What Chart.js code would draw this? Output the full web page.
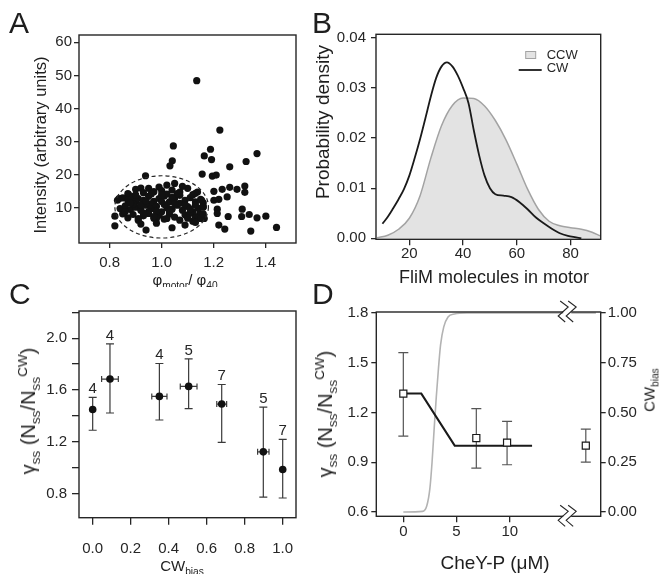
<!DOCTYPE html>
<html>
<head>
<meta charset="utf-8">
<script src="https://cdn.jsdelivr.net/npm/chart.js@4.4.1/dist/chart.umd.min.js"></script>
<style>
  body { margin: 0; background: #fff; }
  #fig { position: relative; width: 666px; height: 574px; overflow: hidden; background: #fff;
         font-family: "Liberation Sans", Arial, sans-serif; color: #1e1e1e; }
  #fig canvas { position: absolute; left: 0; top: 0; }
  .lbl { position: absolute; white-space: nowrap; line-height: 1; }
  .letter { font-size: 30px; }
  .ctr { transform: translateX(-50%); }
  .mid { transform: translate(-50%, -50%); }
  .rot { transform: translate(-50%, -50%) rotate(-90deg); }
  .lbl sub, .lbl sup { font-size: 68%; position: relative; vertical-align: baseline; line-height: 0; }
  .lbl sub { top: 0.35em; }
  .lbl sup { top: -0.6em; }
  .clipA { position: absolute; left: 0; top: 0; width: 333px; height: 287px; overflow: hidden; }
</style>
</head>
<body>
<div id="fig">
  <canvas id="chartA" width="666" height="574"></canvas>
  <canvas id="chartB" width="666" height="574"></canvas>
  <canvas id="chartC" width="666" height="574"></canvas>
  <canvas id="chartD" width="666" height="574"></canvas>

  <div class="lbl letter" style="left:9px;top:8px">A</div>
  <div class="lbl letter" style="left:312px;top:8px">B</div>
  <div class="lbl letter" style="left:9px;top:279px">C</div>
  <div class="lbl letter" style="left:312px;top:279px">D</div>

  <div class="lbl rot" style="left:40px;top:145px;font-size:16.5px">Intensity (arbitrary units)</div>
  <div class="clipA"><div class="lbl ctr" style="left:185px;top:272px;font-size:15px">φ<sub>motor</sub>/ φ<sub>40</sub></div></div>
  <div class="lbl rot" style="left:322px;top:122px;font-size:19px">Probability density</div>
  <div class="lbl mid" style="left:494px;top:277px;font-size:18px">FliM molecules in motor</div>
  <div class="lbl rot" style="left:28px;top:411px;font-size:20px">γ<sub>ss</sub> (N<sub>ss</sub>/N<sub>ss</sub><sup>CW</sup>)</div>
  <div class="lbl ctr" style="left:182px;top:558px;font-size:15px">CW<sub>bias</sub></div>
  <div class="lbl rot" style="left:325px;top:414px;font-size:20px">γ<sub>ss</sub> (N<sub>ss</sub>/N<sub>ss</sub><sup>CW</sup>)</div>
  <div class="lbl rot" style="left:649px;top:390px;font-size:15px">CW<sub>bias</sub></div>
  <div class="lbl mid" style="left:495px;top:562px;font-size:19px">CheY-P (μM)</div>
</div>

<script>
// ---------- panel A : intensity vs phi ratio ----------
const aXTicks = [0.8, 1.0, 1.2, 1.4];
const aYTicks = [10, 20, 30, 40, 50, 60];
const aPoints = [
  // outside the ellipse
  [1.135, 48.4], [1.224, 33.5], [1.045, 28.7], [1.188, 27.7], [1.164, 25.7], [1.041, 24.2],
  [1.192, 24.6], [1.367, 26.4], [1.325, 24.0], [1.032, 22.7], [1.262, 22.4], [1.156, 20.2],
  [1.195, 19.6], [1.210, 19.9], [0.938, 19.7], [1.201, 15.0], [1.233, 15.6], [1.262, 16.2],
  [1.290, 15.6], [1.320, 16.6], [1.320, 14.7], [1.252, 13.3], [1.201, 12.3], [1.220, 12.6],
  [1.214, 9.6], [1.214, 8.3], [1.256, 7.4], [1.310, 9.6], [1.308, 7.4], [1.337, 8.0],
  [1.367, 7.0], [1.401, 7.5], [1.220, 4.8], [1.243, 3.6], [1.343, 3.0], [1.442, 4.1],
  [1.138, 14.8], [1.154, 12.3], [1.160, 10.3], [1.147, 8.3], [1.164, 6.8], [1.135, 7.3],
  // the dense cluster
  [0.87, 14.3], [0.90, 15.6], [0.92, 16.0], [0.95, 15.9], [0.97, 14.9], [1.00, 15.2],
  [1.02, 16.9], [1.05, 17.4], [1.04, 15.4], [1.07, 14.8], [1.10, 15.9], [1.13, 14.4],
  [0.93, 14.6], [0.99, 16.3], [1.08, 16.5], [0.836, 12.8], [0.872, 14.1],
  [0.83, 12.3], [0.85, 13.0], [0.87, 12.3], [0.89, 13.4], [0.91, 12.8], [0.93, 12.3],
  [0.95, 13.5], [0.97, 12.0], [0.99, 12.8], [1.01, 13.6], [1.03, 11.8], [1.05, 12.9],
  [1.07, 13.8], [1.09, 12.3], [1.11, 13.1], [1.13, 11.8], [1.15, 12.6], [1.16, 11.5],
  [0.90, 11.9], [0.96, 11.2], [1.02, 14.2], [1.12, 14.0],
  [0.84, 9.8], [0.86, 10.6], [0.88, 9.5], [0.90, 10.2], [0.92, 9.3], [0.94, 10.8],
  [0.96, 9.8], [0.98, 10.5], [1.00, 8.8], [1.02, 10.1], [1.04, 9.6], [1.06, 10.8],
  [1.08, 9.3], [1.10, 10.4], [1.12, 8.8], [1.14, 9.9], [1.16, 10.3], [0.89, 11.2],
  [0.95, 8.9], [1.01, 11.0], [1.07, 11.4], [1.13, 10.9],
  [0.82, 7.5], [0.85, 8.2], [0.87, 7.0], [0.89, 8.0], [0.91, 6.8], [0.93, 7.6],
  [0.95, 8.3], [0.97, 6.9], [0.99, 7.8], [1.01, 6.6], [1.03, 8.1], [1.05, 7.2],
  [1.07, 6.3], [1.09, 7.9], [1.11, 8.4], [1.13, 7.1], [1.15, 6.8], [1.16, 8.2],
  [0.91, 6.3], [0.98, 6.8], [1.02, 6.8], [1.12, 6.0],
  [0.82, 4.6], [0.92, 5.1], [0.94, 3.3], [1.04, 4.0], [1.09, 4.8], [0.98, 5.4], [1.13, 5.6],
  [0.88, 11.5], [0.90, 13.9], [0.92, 10.9], [0.94, 12.0], [0.96, 14.2], [0.98, 9.0],
  [1.00, 11.9], [1.03, 9.0], [1.05, 11.5], [1.06, 14.3], [1.09, 11.0], [1.11, 9.7],
  [0.86, 8.9], [0.93, 8.4], [1.00, 14.0], [1.04, 13.2], [0.97, 7.4], [1.10, 6.9]
];
const aEllipse = [1.0, 10.3, 0.18, 9.4]; // centre x, centre y, half width, half height (data units)

// ---------- panel B : FliM distributions ----------
const bXTicks = [20, 40, 60, 80];
const bYTicks = [0, 0.01, 0.02, 0.03, 0.04];
const bSeries = ['CCW', 'CW'];
const bCcwX = [8, 12, 16, 20, 24, 28, 32, 36, 40, 44, 48, 52, 56, 60, 64, 68, 72, 76, 80, 84, 88, 91];
const bCcwY = [0.0001, 0.0006, 0.0018, 0.0040, 0.0085, 0.0160, 0.0225, 0.0265, 0.0280, 0.0279, 0.0264,
               0.0235, 0.0196, 0.0148, 0.0098, 0.0058, 0.0034, 0.0025, 0.0021, 0.0018, 0.0012, 0.0005];
const bCwX = [10, 12, 14, 16, 18, 20, 22, 24, 26, 28, 30, 32, 34, 36, 38, 40, 42, 44, 46, 48, 50,
              52, 55, 58, 61, 64, 67, 70, 73, 76, 79, 82, 84];
const bCwY = [0.0029, 0.0043, 0.0060, 0.0078, 0.0098, 0.0125, 0.0160, 0.0198, 0.0240, 0.0283, 0.0320,
              0.0343, 0.0351, 0.0343, 0.0325, 0.0300, 0.0270, 0.0215, 0.0165, 0.0125, 0.0100,
              0.0088, 0.0085, 0.0082, 0.0072, 0.0058, 0.0042, 0.0030, 0.0019, 0.0010, 0.0005, 0.0002, 0.0000];

// ---------- panel C : gamma vs CW bias ----------
const cXTicks = [0, 0.2, 0.4, 0.6, 0.8, 1.0];
const cYTicks = [0.8, 1.0, 1.2, 1.4, 1.6, 1.8, 2.0, 2.2];
const cYLabelled = [0.8, 1.2, 1.6, 2.0];
const cBias = [0.0, 0.091, 0.351, 0.505, 0.679, 0.898, 1.0];
const cBiasErr = [0, 0.044, 0.04, 0.044, 0.026, 0.03, 0];
const cRatio = [1.45, 1.685, 1.551, 1.628, 1.492, 1.123, 0.987];
const cHigh = [1.544, 1.956, 1.805, 1.840, 1.643, 1.469, 1.220];
const cLow = [1.290, 1.423, 1.369, 1.456, 1.197, 0.774, 0.767];
const cN = ['4', '4', '4', '5', '7', '5', '7'];

// ---------- panel D : gamma vs CheY-P ----------
const dXTicks = [0, 5, 10];
const dYTicks = [0.6, 0.9, 1.2, 1.5, 1.8];
const dY2Ticks = [0, 0.25, 0.5, 0.75, 1];
const dCheY = [0, 6.86, 9.75, 17.15];
const dRatio = [1.314, 1.046, 1.018, 1.0];
const dHigh = [1.561, 1.223, 1.147, 1.10];
const dLow = [1.058, 0.865, 0.885, 0.901];
const dFitX = [0, 1.69, 4.83, 12.1];
const dFitY = [1.314, 1.314, 1.0, 1.0];
const dBiasX = [0, 1.8, 2.2, 2.5, 2.7, 2.9, 3.1, 3.3, 3.5, 3.8, 4.2, 4.8, 6, 10, 15, 18.1];
const dBias = [0, 0.003, 0.03, 0.12, 0.25, 0.42, 0.58, 0.72, 0.84, 0.93, 0.98, 0.995, 1, 1, 1, 1];
const dBreak = 15.4;

const INK = '#262626';
Chart.defaults.font.family = '"Liberation Sans", Arial, sans-serif';
Chart.defaults.color = INK;
Chart.defaults.animation = false;
Chart.defaults.events = [];
Chart.defaults.plugins.legend.display = false;
Chart.defaults.plugins.tooltip.enabled = false;

const xy = (xs, ys) => xs.map((x, i) => ({ x: x, y: ys[i] }));

function axis(o) {
  return {
    type: 'linear', position: o.position, min: o.min, max: o.max,
    afterBuildTicks: s => { s.ticks = o.ticks.map(v => ({ value: v })); },
    afterFit: s => { if (o.width) s.width = o.width; if (o.height) s.height = o.height; },
    grid: { drawOnChartArea: false, drawTicks: true, tickLength: o.tl || 6, color: INK, lineWidth: 1.3 },
    border: { display: false },
    ticks: { autoSkip: false, maxRotation: 0, padding: o.pad, font: { size: o.size || 15 }, color: INK, callback: o.fmt },
    title: { display: false }
  };
}

// box around the plot area, with optional axis-break marks
function framePlugin(breakAt) {
  return {
    id: 'frame',
    afterDatasetsDraw(chart) {
      const { ctx, chartArea: a } = chart;
      ctx.save();
      ctx.strokeStyle = INK;
      ctx.lineWidth = 1.4;
      ctx.strokeRect(a.left, a.top, a.right - a.left, a.bottom - a.top);
      if (breakAt !== undefined) {
        const bx = chart.scales.x.getPixelForValue(breakAt);
        [a.top, a.bottom].forEach(yy => {
          ctx.fillStyle = '#fff';
          ctx.fillRect(bx - 4, yy - 4, 8, 8);
          ctx.lineWidth = 1.1;
          [-4, 4].forEach(dx => {
            const x0 = bx + dx;
            ctx.beginPath();
            ctx.moveTo(x0 - 3, yy - 11);
            ctx.lineTo(x0 + 5, yy - 5);
            ctx.lineTo(x0 - 5, yy + 4);
            ctx.lineTo(x0 + 2, yy + 10);
            ctx.stroke();
          });
        });
      }
      ctx.restore();
    }
  };
}

function ellipsePlugin(e) {
  return {
    id: 'ellipse',
    afterDatasetsDraw(chart) {
      const { ctx, scales } = chart;
      const cx = scales.x.getPixelForValue(e[0]), cy = scales.y.getPixelForValue(e[1]);
      const rx = Math.abs(scales.x.getPixelForValue(e[0] + e[2]) - cx);
      const ry = Math.abs(scales.y.getPixelForValue(e[1] + e[3]) - cy);
      ctx.save();
      ctx.strokeStyle = INK;
      ctx.lineWidth = 1.2;
      ctx.setLineDash([4, 3]);
      ctx.beginPath();
      ctx.ellipse(cx, cy, rx, ry, 0, 0, Math.PI * 2);
      ctx.stroke();
      ctx.restore();
    }
  };
}

function errorBarPlugin(o) {
  return {
    id: 'errorBars',
    beforeDatasetsDraw(chart) {
      const { ctx } = chart;
      const xs = chart.scales.x, ys = chart.scales.y;
      ctx.save();
      ctx.strokeStyle = o.color;
      ctx.lineWidth = 1.2;
      o.x.forEach((xv, i) => {
        const px = xs.getPixelForValue(xv);
        const top = ys.getPixelForValue(o.high[i]), bot = ys.getPixelForValue(o.low[i]);
        ctx.beginPath();
        ctx.moveTo(px, top); ctx.lineTo(px, bot);
        ctx.moveTo(px - o.cap, top); ctx.lineTo(px + o.cap, top);
        ctx.moveTo(px - o.cap, bot); ctx.lineTo(px + o.cap, bot);
        if (o.xErr && o.xErr[i]) {
          const py = ys.getPixelForValue(o.y[i]);
          const l = xs.getPixelForValue(xv - o.xErr[i]), r = xs.getPixelForValue(xv + o.xErr[i]);
          ctx.moveTo(l, py); ctx.lineTo(r, py);
          ctx.moveTo(l, py - 3); ctx.lineTo(l, py + 3);
          ctx.moveTo(r, py - 3); ctx.lineTo(r, py + 3);
        }
        ctx.stroke();
        if (o.labels) {
          ctx.fillStyle = INK;
          ctx.font = '15px "Liberation Sans", Arial, sans-serif';
          ctx.textAlign = 'center';
          ctx.textBaseline = 'bottom';
          ctx.fillText(o.labels[i], px, top - 1);
        }
      });
      ctx.restore();
    }
  };
}

// legend drawn inside the plot area, top right
const boxLegend = {
  id: 'boxLegend',
  afterDraw(chart) {
    const { ctx, chartArea: a } = chart;
    const tx = a.right - 54;
    ctx.save();
    ctx.font = '13px "Liberation Sans", Arial, sans-serif';
    ctx.textBaseline = 'middle';
    chart.data.datasets.forEach((ds, i) => {
      const ty = a.top + 20.7 + i * 13.5;
      if (ds.fill) {
        ctx.fillStyle = ds.backgroundColor;
        ctx.strokeStyle = ds.borderColor;
        ctx.lineWidth = 1;
        ctx.fillRect(tx - 21, ty - 3.5, 10, 7);
        ctx.strokeRect(tx - 21, ty - 3.5, 10, 7);
      } else {
        ctx.strokeStyle = ds.borderColor;
        ctx.lineWidth = ds.borderWidth;
        ctx.beginPath();
        ctx.moveTo(tx - 28, ty + 1.5);
        ctx.lineTo(tx - 5, ty + 1.5);
        ctx.stroke();
      }
      ctx.fillStyle = INK;
      ctx.fillText(ds.label, tx, ty);
    });
    ctx.restore();
  }
};

// ---- A
new Chart(document.getElementById('chartA'), {
  type: 'scatter',
  data: { datasets: [{ data: aPoints.map(p => ({ x: p[0], y: p[1] })), pointRadius: 3.6,
                       backgroundColor: '#111', borderWidth: 0 }] },
  options: {
    responsive: false,
    layout: { padding: { left: 0, top: 35, right: 370, bottom: 296 } },
    scales: {
      x: axis({ position: 'bottom', min: 0.682, max: 1.517, ticks: aXTicks, height: 35, tl: 5, pad: 6,
                fmt: v => v.toFixed(1) }),
      y: axis({ position: 'left', min: -0.6, max: 62.2, ticks: aYTicks, width: 79, tl: 5, pad: 2,
                fmt: v => String(v) })
    }
  },
  plugins: [framePlugin(), ellipsePlugin(aEllipse)]
});

// ---- B
new Chart(document.getElementById('chartB'), {
  type: 'line',
  data: {
    datasets: [
      { label: bSeries[0], data: xy(bCcwX, bCcwY), fill: 'origin', backgroundColor: '#e3e3e3',
        borderColor: '#a3a3a3', borderWidth: 1.5, pointRadius: 0, cubicInterpolationMode: 'monotone', order: 2 },
      { label: bSeries[1], data: xy(bCwX, bCwY), fill: false, borderColor: '#1a1a1a',
        borderWidth: 1.8, pointRadius: 0, cubicInterpolationMode: 'monotone', order: 1 }
    ]
  },
  options: {
    responsive: false,
    layout: { padding: { left: 310, top: 34.3, right: 65.3, bottom: 286.8 } },
    scales: {
      x: axis({ position: 'bottom', min: 7.6, max: 91.2, ticks: bXTicks, height: 47.9, tl: 6, pad: 0,
                fmt: v => String(v) }),
      y: axis({ position: 'left', min: -0.0002, max: 0.0407, ticks: bYTicks, width: 66, tl: 5, pad: 5,
                fmt: v => v.toFixed(2) })
    }
  },
  plugins: [framePlugin(), boxLegend]
});

// ---- C
new Chart(document.getElementById('chartC'), {
  type: 'scatter',
  data: { datasets: [{ data: xy(cBias, cRatio), pointRadius: 3.8, backgroundColor: '#111', borderWidth: 0 }] },
  options: {
    responsive: false,
    layout: { padding: { left: 0, top: 311, right: 370, bottom: 16.3 } },
    scales: {
      x: axis({ position: 'bottom', min: -0.072, max: 1.07, ticks: cXTicks, height: 40, tl: 7, pad: 15,
                fmt: v => v.toFixed(1) }),
      y: axis({ position: 'left', min: 0.615, max: 2.21, ticks: cYTicks, width: 79, tl: 7, pad: 5,
                fmt: v => (cYLabelled.includes(v) ? v.toFixed(1) : '') })
    }
  },
  plugins: [framePlugin(), errorBarPlugin({ x: cBias, y: cRatio, high: cHigh, low: cLow, xErr: cBiasErr,
                                            labels: cN, cap: 4, color: '#3a3a3a' })]
});

// ---- D
new Chart(document.getElementById('chartD'), {
  type: 'scatter',
  data: {
    datasets: [
      { data: xy(dBiasX, dBias), yAxisID: 'y2', showLine: true, borderColor: '#b3b3b3', borderWidth: 1.6,
        pointRadius: 0, cubicInterpolationMode: 'monotone', order: 3 },
      { data: xy(dFitX, dFitY), yAxisID: 'y', showLine: true, borderColor: '#1a1a1a', borderWidth: 2,
        pointRadius: 0, order: 2 },
      { data: xy(dCheY, dRatio), yAxisID: 'y', pointStyle: 'rect', pointRadius: 5, backgroundColor: '#fff',
        borderColor: '#1a1a1a', borderWidth: 1.2, order: 1 }
    ]
  },
  options: {
    responsive: false,
    layout: { padding: { left: 310, top: 312, right: 25.3, bottom: 1.8 } },
    scales: {
      x: axis({ position: 'bottom', min: -2.54, max: 18.55, ticks: dXTicks, height: 55.9, tl: 6, pad: 1,
                fmt: v => String(v) }),
      y: axis({ position: 'left', min: 0.574, max: 1.806, ticks: dYTicks, width: 66.3, tl: 5, pad: 3,
                fmt: v => v.toFixed(1) }),
      y2: axis({ position: 'right', min: -0.0216, max: 1.005, ticks: dY2Ticks, width: 40, tl: 5, pad: 2,
                 fmt: v => v.toFixed(2) })
    }
  },
  plugins: [errorBarPlugin({ x: dCheY, y: dRatio, high: dHigh, low: dLow, cap: 5, color: '#555' }),
            framePlugin(dBreak)]
});
</script>
</body>
</html>
